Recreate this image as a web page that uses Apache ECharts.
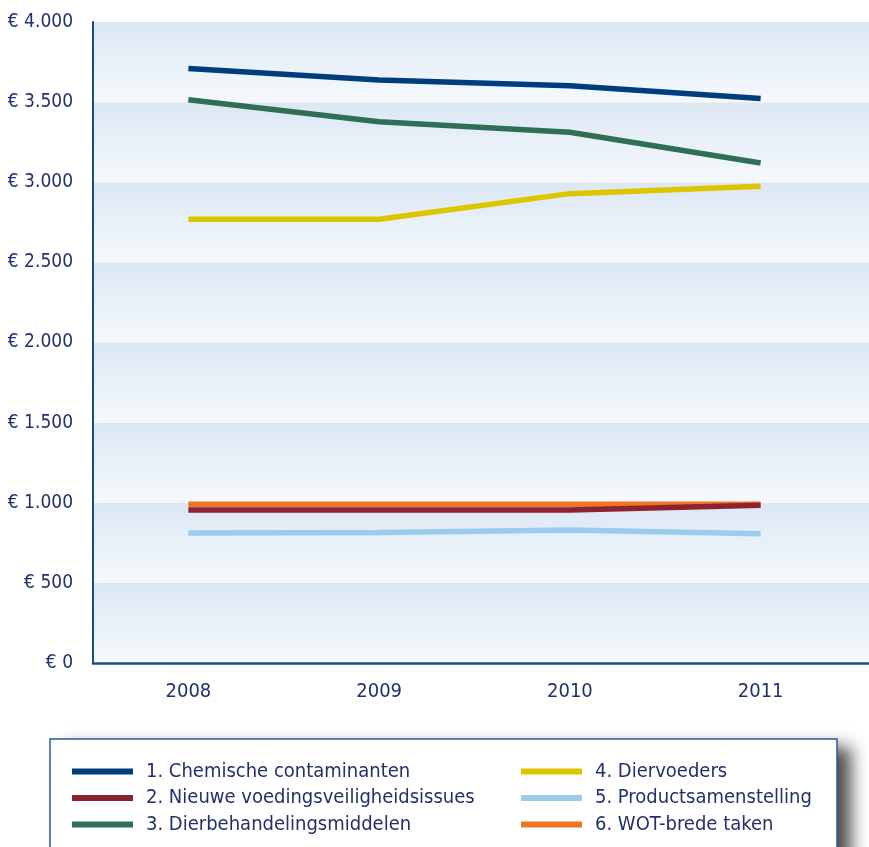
<!DOCTYPE html>
<html>
<head>
<meta charset="utf-8">
<script src="https://cdn.jsdelivr.net/npm/echarts@6/dist/echarts.min.js"></script>
<style>html,body{margin:0;padding:0;background:#fff}#c{width:869px;height:847px}</style>
</head>
<body>
<div id="c"></div>
<script>
var years = ['2008', '2009', '2010', '2011'];
var seriesNames = [
  '1. Chemische contaminanten',
  '2. Nieuwe voedingsveiligheidsissues',
  '3. Dierbehandelingsmiddelen',
  '4. Diervoeders',
  '5. Productsamenstelling',
  '6. WOT-brede taken'
];
var chemische = [3710, 3638, 3602, 3522];
var nieuwe = [955, 955, 955, 985];
var dierbehandeling = [3515, 3377, 3312, 3120];
var diervoeders = [2769, 2769, 2929, 2975];
var productsamenstelling = [812, 815, 830, 806];
var wotBrede = [990, 990, 990, 990];
var yTicks = [0, 500, 1000, 1500, 2000, 2500, 3000, 3500, 4000];

var colors = ['#003d7c', '#8b2331', '#2f6f56', '#dcc600', '#9dcbeb', '#f07522'];
var values = [chemische, nieuwe, dierbehandeling, diervoeders, productsamenstelling, wotBrede];
var zOrder = [3, 6, 3, 3, 3, 5];

var textColor = '#22306b';
var font = '"DejaVu Sans Condensed", "Liberation Sans Narrow", sans-serif';

function fmt(v) {
  var s = String(v);
  if (v >= 1000) s = s.slice(0, s.length - 3) + '.' + s.slice(-3);
  return '\u20ac ' + s;
}

var band = new echarts.graphic.LinearGradient(0, 0, 0, 1, [
  {offset: 0, color: '#dce7f3'},
  {offset: 1, color: '#f5f9fd'}
]);

var chart = echarts.init(document.getElementById('c'), null, {renderer: 'canvas'});
var series = seriesNames.map(function (n, i) {
  return {
    name: n,
    type: 'line',
    xAxisIndex: 1,
    yAxisIndex: 1,
    data: values[i],
    symbol: 'none',
    z: zOrder[i],
    lineStyle: {color: colors[i], width: 5.5, cap: 'butt'},
    itemStyle: {color: colors[i]}
  };
});

function legendCfg(left, names) {
  return {
    z: 10, orient: 'vertical', left: left, top: 761.5, itemGap: 6.5, padding: 0,
    data: names,
    icon: 'rect', itemWidth: 61, itemHeight: 6,
    textStyle: {color: textColor, fontSize: 20, fontFamily: font, lineHeight: 20, padding: [0, 0, 0, 8]}
  };
}

chart.setOption({
  animation: false,
  textStyle: {fontFamily: font},
  grid: [
    {left: 93, right: 0, top: 22, bottom: 184},
    {left: 93, right: 13, top: 22, bottom: 184}
  ],
  xAxis: [
    {
      gridIndex: 0, type: 'value', min: 0, max: 1,
      axisLine: {show: true, lineStyle: {color: '#1a4c8a', width: 2.5}},
      axisTick: {show: false}, axisLabel: {show: false}, splitLine: {show: false}
    },
    {
      gridIndex: 1, type: 'category', data: years, boundaryGap: true,
      axisLine: {show: false}, axisTick: {show: false},
      axisLabel: {color: textColor, fontSize: 20, fontFamily: font, margin: 19}
    }
  ],
  yAxis: [
    {
      gridIndex: 0, type: 'value', min: 0, max: 4000, interval: 500,
      axisLine: {show: true, lineStyle: {color: '#1a4c8a', width: 2}},
      axisTick: {show: false},
      axisLabel: {color: textColor, fontSize: 19, fontFamily: font, margin: 20,
        formatter: function (v) { return yTicks.indexOf(v) >= 0 ? fmt(v) : ''; }},
      splitLine: {show: false},
      splitArea: {show: true, areaStyle: {color: [band]}}
    },
    {
      gridIndex: 1, type: 'value', min: 0, max: 4000, interval: 500, show: false,
      splitLine: {show: false}
    }
  ],
  graphic: [
    {
      type: 'rect', z: 0,
      shape: {x: 50, y: 739, width: 787, height: 140},
      style: {fill: '#ffffff',
        shadowBlur: 16, shadowOffsetX: 14, shadowOffsetY: 8, shadowColor: 'rgba(0,0,0,0.7)'}
    },
    {
      type: 'rect', z: 1,
      shape: {x: 50, y: 739, width: 787, height: 140},
      style: {fill: '#ffffff', stroke: '#2a5a94', lineWidth: 1.5}
    }
  ],
  legend: [
    legendCfg(72, [seriesNames[0], seriesNames[1], seriesNames[2]]),
    legendCfg(521, [seriesNames[3], seriesNames[4], seriesNames[5]])
  ],
  series: series
});
</script>
</body>
</html>
